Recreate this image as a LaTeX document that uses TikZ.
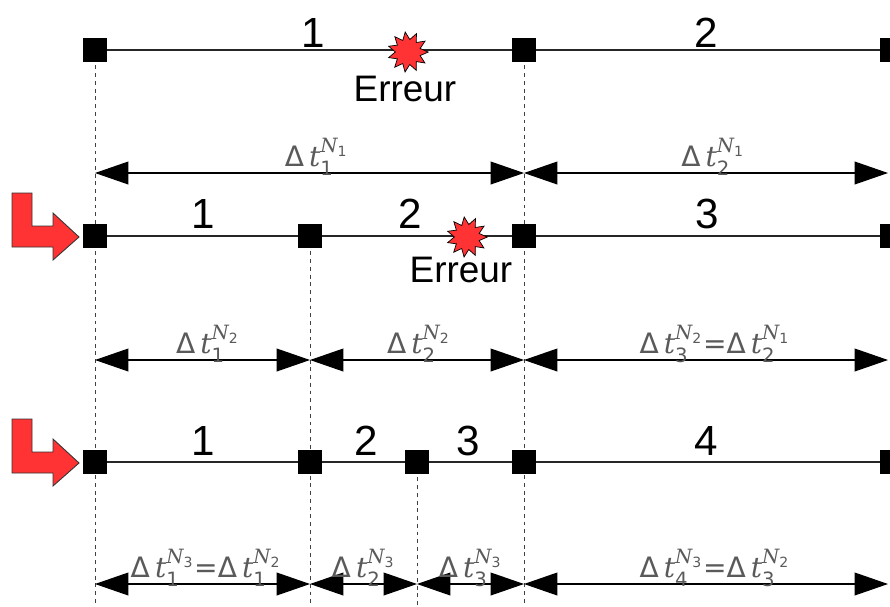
\documentclass[tikz,border=0pt]{standalone}
\usepackage{fontspec}
\usepackage{amsmath}
\setmainfont{Liberation Sans}
\newfontfamily\dvsans{DejaVu Sans}
\newfontfamily\dvserif{DejaVu Serif}
\usetikzlibrary{arrows.meta,shapes.geometric}
\definecolor{errred}{HTML}{FF3333}
\definecolor{lblgrey}{HTML}{5A5A5A}
\newcommand{\dt}[2]{$\text{\dvsans Δ}\,\text{\dvserif\itshape t}_{\text{\dvsans #1}}^{\text{\dvserif\itshape N}_{\text{\dvsans #2}}}$}
\newcommand{\eqdt}[4]{\dt{#1}{#2}{\dvsans =}\dt{#3}{#4}}
\tikzset{
  sq/.style={fill=black,minimum size=13.2pt,inner sep=0pt},
  row/.style={line width=0.6pt,black!85},
  vline/.style={dash pattern=on 2.2pt off 2.2pt,line width=0.5pt,black!75},
  dim/.style={{Triangle[length=19pt,width=13pt]}-{Triangle[length=19pt,width=13pt]},line width=0.6pt},
  num/.style={font=\fontsize{24}{24}\selectfont},
  errtxt/.style={font=\fontsize{21}{21}\selectfont},
  lbl/.style={text=lblgrey,font=\fontsize{16}{16}\selectfont,anchor=base,yshift=3.5pt},
  burst/.style={star,star points=11,star point ratio=1.6,minimum size=23pt,inner sep=0pt,fill=errred,draw=black,line width=0.4pt},
  turn/.style={fill=errred,draw=black!80,line width=0.5pt}
}
\begin{document}
\begin{tikzpicture}[x=0.02cm,y=-0.02cm]
  \useasboundingbox (0,0) rectangle (890,606);
  % dashed guides
  \foreach \x/\y [count=\i] in {95/50,524/50,310/236,417/462}{
    \coordinate (g\i) at (\x,\y);
    \coordinate (h\i) at (\x,606);
    \draw[vline] (g\i) -- (h\i);
  }
  % turn arrows
  \foreach \dy [count=\i] in {0,226}
    \draw[turn,shift={(0,\dy)}] (12,193) -- (32,193) -- (32,226) -- (53,226)
      -- (53,213) -- (79,237) -- (53,260) -- (53,247) -- (12,247) -- cycle;

  % first row
  \foreach \n/\x in {a1/95,a2/524,a3/892}
    \node[sq] (\n) at (\x,50) {};
  \draw[row] (a1) -- (a2) -- (a3);
  \node[num] (ka1) at (313,33) {1};
  \node[num] (ka2) at (706,33) {2};
  \node[burst,rotate=8] (e1) at (408,52) {};
  \node[errtxt] (t1) at (405,89) {Erreur};
  \foreach \x [count=\i] in {95,524,888}
    \coordinate (m\i) at (\x,173);
  \draw[dim] (m1) -- node[lbl,xshift=4pt]{\dt{1}{1}} (m2);
  \draw[dim] (m2) -- node[lbl,xshift=4pt]{\dt{2}{1}} (m3);

  % second row
  \foreach \n/\x in {b1/95,b2/310,b3/524,b4/892}
    \node[sq] (\n) at (\x,236) {};
  \draw[row] (b1) -- (b2) -- (b3) -- (b4);
  \node[num] (kb1) at (203,214) {1};
  \node[num] (kb2) at (410,214) {2};
  \node[num] (kb3) at (707,214) {3};
  \node[burst,rotate=8] (e2) at (467,237) {};
  \node[errtxt] (t2) at (461,270) {Erreur};
  \foreach \x [count=\i] in {95,310,524,888}
    \coordinate (n\i) at (\x,360);
  \draw[dim] (n1) -- node[lbl,xshift=3pt]{\dt{1}{2}} (n2);
  \draw[dim] (n2) -- node[lbl,xshift=1pt]{\dt{2}{2}} (n3);
  \draw[dim] (n3) -- node[lbl,xshift=5pt]{\eqdt{3}{2}{2}{1}} (n4);

  % third row
  \foreach \n/\x in {c1/95,c2/310,c3/417,c4/524,c5/892}
    \node[sq] (\n) at (\x,462) {};
  \draw[row] (c1) -- (c2) -- (c3) -- (c4) -- (c5);
  \node[num] (kc1) at (203,441) {1};
  \node[num] (kc2) at (366,441) {2};
  \node[num] (kc3) at (468,441) {3};
  \node[num] (kc4) at (706,441) {4};
  \foreach \x [count=\i] in {95,310,417,524,888}
    \coordinate (o\i) at (\x,584);
  \draw[dim] (o1) -- node[lbl,xshift=2pt]{\eqdt{1}{3}{1}{2}} (o2);
  \draw[dim] (o2) -- node[lbl]{\dt{2}{3}} (o3);
  \draw[dim] (o3) -- node[lbl]{\dt{3}{3}} (o4);
  \draw[dim] (o4) -- node[lbl,xshift=5pt]{\eqdt{4}{3}{3}{2}} (o5);
\end{tikzpicture}
\end{document}
